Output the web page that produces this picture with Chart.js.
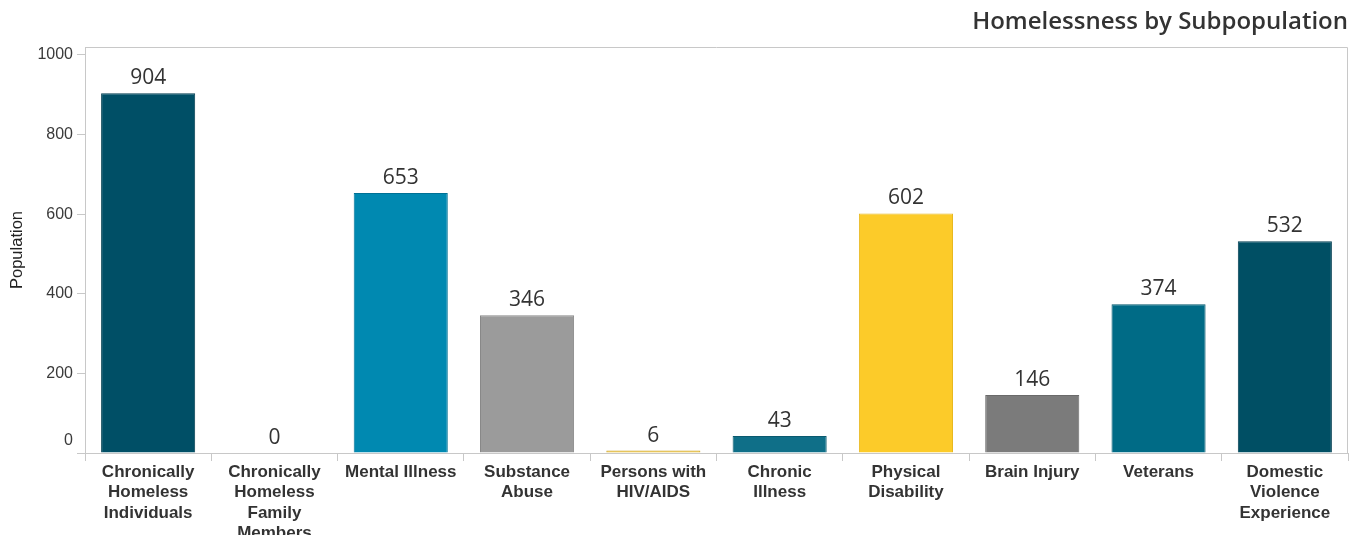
<!DOCTYPE html>
<html>
<head>
<meta charset="utf-8">
<script src="https://cdn.jsdelivr.net/npm/chart.js@4"></script>
<style>
  html, body { margin:0; padding:0; background:#fff; }
  #wrap { width:1353px; height:535px; position:relative; }
</style>
</head>
<body>
<div id="wrap"><canvas id="chart"></canvas></div>
<script>
// ====== DATA ======
const categories = [
  ['Chronically', 'Homeless', 'Individuals'],
  ['Chronically', 'Homeless', 'Family', 'Members'],
  ['Mental Illness'],
  ['Substance', 'Abuse'],
  ['Persons with', 'HIV/AIDS'],
  ['Chronic', 'Illness'],
  ['Physical', 'Disability'],
  ['Brain Injury'],
  ['Veterans'],
  ['Domestic', 'Violence', 'Experience']
];
const population = [904, 0, 653, 346, 6, 43, 602, 146, 374, 532];
const yTickValues = [0, 200, 400, 600, 800, 1000];

const barColors = ['#004f66', '#004f66', '#0089b1', '#9b9b9b', '#e9bb2a',
                   '#0f6f88', '#fccb29', '#7b7b7b', '#006b86', '#004f64'];
const barBorders = ['#003d50', '#003d50', '#007195', '#888888', '#c9a020',
                    '#0a5a6f', '#e8b820', '#6a6a6a', '#00576d', '#003d50'];

// ====== PLUGINS ======
// garis tipis di atas & kanan area plot
const frame = {
  id: 'frame',
  beforeDatasetsDraw(chart){
    const {ctx, chartArea:a} = chart;
    ctx.save();
    ctx.strokeStyle = '#c8c8c8';
    ctx.lineWidth = 1;
    ctx.beginPath();
    ctx.moveTo(a.left + 0.5, a.bottom);
    ctx.lineTo(a.left + 0.5, a.top + 0.5);
    ctx.lineTo(a.right - 0.5, a.top + 0.5);
    ctx.lineTo(a.right - 0.5, a.bottom);
    ctx.stroke();
    ctx.restore();
  }
};

// angka di atas batang
const valueLabels = {
  id: 'valueLabels',
  afterDatasetsDraw(chart){
    const {ctx} = chart;
    const meta = chart.getDatasetMeta(0);
    ctx.save();
    ctx.fillStyle = '#333';
    ctx.font = '21px "Open Sans", sans-serif';
    ctx.textAlign = 'center';
    ctx.textBaseline = 'alphabetic';
    meta.data.forEach((bar, i) => {
      ctx.fillText(String(population[i]), bar.x, bar.y - 9);
    });
    ctx.restore();
  }
};

const ctx = document.getElementById('chart').getContext('2d');
new Chart(ctx, {
  type: 'bar',
  data: {
    labels: categories,
    datasets: [{
      data: population,
      backgroundColor: barColors,
      borderColor: barBorders,
      borderWidth: 1,
      barPercentage: 0.745,
      categoryPercentage: 1
    }]
  },
  options: {
    responsive: true,
    maintainAspectRatio: false,
    animation: false,
    layout: { padding: { left: 0, right: 5, top: 0, bottom: 0 } },
    plugins: {
      legend: { display: false },
      tooltip: { enabled: false },
      title: {
        display: true,
        text: 'Homelessness by Subpopulation',
        align: 'end',
        color: '#333',
        font: { family: '"Open Sans", sans-serif', size: 24, weight: '600', lineHeight: 1.2 },
        padding: { top: 8, bottom: 10.2 }
      }
    },
    scales: {
      x: {
        grid: { display: true, drawOnChartArea: false, drawTicks: true, tickLength: 8, color: '#c8c8c8', offset: true },
        border: { display: true, color: '#c8c8c8' },
        ticks: {
          color: '#333',
          font: { family: 'Arial, "Liberation Sans", sans-serif', size: 17, weight: 'bold', lineHeight: 1.2 },
          padding: 1,
          maxRotation: 0,
          autoSkip: false
        },
        afterFit(scale){ scale.height = 82; }
      },
      y: {
        min: 0,
        max: 1020,
        afterBuildTicks(scale){ scale.ticks = yTickValues.map(v => ({ value: v })); },
        grid: { display: true, drawOnChartArea: false, drawTicks: true, tickLength: 8, color: '#c8c8c8' },
        border: { display: true, color: '#c8c8c8' },
        ticks: {
          color: '#3a3a3a',
          font: (c) => c.index === 0
            ? { family: 'Arial, "Liberation Sans", sans-serif', size: 16, lineHeight: 1.5 }
            : { family: 'Arial, "Liberation Sans", sans-serif', size: 16 },
          padding: 4,
          // label 0 sedikit naik, seperti aslinya
          callback: (v) => v === 0 ? ['0', ''] : String(v)
        },
        title: {
          display: true,
          text: 'Population',
          color: '#222',
          font: { family: 'Arial, "Liberation Sans", sans-serif', size: 16.5 },
          padding: { top: 8, bottom: 0 }
        },
        afterFit(scale){ scale.width = 85; }
      }
    }
  },
  plugins: [frame, valueLabels]
});
</script>
</body>
</html>
